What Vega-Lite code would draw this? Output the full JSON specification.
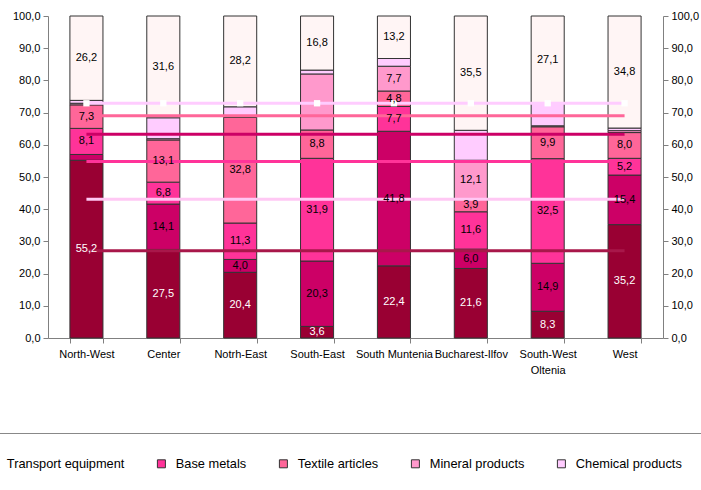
{
  "$schema": "https://vega.github.io/schema/vega-lite/v6.json",
  "autosize": {"type": "none"},
  "width": 615,
  "height": 322,
  "padding": {"left": 48, "top": 16, "right": 38, "bottom": 152},
  "background": "white",
  "config": {
    "view": {"stroke": null},
    "font": "Liberation Sans",
    "axis": {"labelFont": "Liberation Sans", "labelFontSize": 11, "labelColor": "#000", "domainColor": "#808080", "tickColor": "#808080", "grid": false, "title": null}
  },
  "datasets": {
    "bars": [
      {"region": "North-West", "cat": "Machinery and equipment", "value": 55.2, "labeled": true},
      {"region": "North-West", "cat": "Transport equipment", "value": 1.8, "labeled": false},
      {"region": "North-West", "cat": "Base metals", "value": 8.1, "labeled": true},
      {"region": "North-West", "cat": "Textile articles", "value": 7.3, "labeled": true},
      {"region": "North-West", "cat": "Mineral products", "value": 0.5, "labeled": false},
      {"region": "North-West", "cat": "Chemical products", "value": 0.9, "labeled": false},
      {"region": "North-West", "cat": "Others", "value": 26.2, "labeled": true},
      {"region": "Center", "cat": "Machinery and equipment", "value": 27.5, "labeled": true},
      {"region": "Center", "cat": "Transport equipment", "value": 14.1, "labeled": true},
      {"region": "Center", "cat": "Base metals", "value": 6.8, "labeled": true},
      {"region": "Center", "cat": "Textile articles", "value": 13.1, "labeled": true},
      {"region": "Center", "cat": "Mineral products", "value": 0.4, "labeled": false},
      {"region": "Center", "cat": "Chemical products", "value": 6.5, "labeled": false},
      {"region": "Center", "cat": "Others", "value": 31.6, "labeled": true},
      {"region": "Notrh-East", "cat": "Machinery and equipment", "value": 20.4, "labeled": true},
      {"region": "Notrh-East", "cat": "Transport equipment", "value": 4.0, "labeled": true},
      {"region": "Notrh-East", "cat": "Base metals", "value": 11.3, "labeled": true},
      {"region": "Notrh-East", "cat": "Textile articles", "value": 32.8, "labeled": true},
      {"region": "Notrh-East", "cat": "Mineral products", "value": 0.3, "labeled": false},
      {"region": "Notrh-East", "cat": "Chemical products", "value": 3.0, "labeled": false},
      {"region": "Notrh-East", "cat": "Others", "value": 28.2, "labeled": true},
      {"region": "South-East", "cat": "Machinery and equipment", "value": 3.6, "labeled": true},
      {"region": "South-East", "cat": "Transport equipment", "value": 20.3, "labeled": true},
      {"region": "South-East", "cat": "Base metals", "value": 31.9, "labeled": true},
      {"region": "South-East", "cat": "Textile articles", "value": 8.8, "labeled": true},
      {"region": "South-East", "cat": "Mineral products", "value": 17.4, "labeled": false},
      {"region": "South-East", "cat": "Chemical products", "value": 1.2, "labeled": false},
      {"region": "South-East", "cat": "Others", "value": 16.8, "labeled": true},
      {"region": "South Muntenia", "cat": "Machinery and equipment", "value": 22.4, "labeled": true},
      {"region": "South Muntenia", "cat": "Transport equipment", "value": 41.8, "labeled": true},
      {"region": "South Muntenia", "cat": "Base metals", "value": 7.7, "labeled": true},
      {"region": "South Muntenia", "cat": "Textile articles", "value": 4.8, "labeled": true},
      {"region": "South Muntenia", "cat": "Mineral products", "value": 7.7, "labeled": true},
      {"region": "South Muntenia", "cat": "Chemical products", "value": 2.4, "labeled": false},
      {"region": "South Muntenia", "cat": "Others", "value": 13.2, "labeled": true},
      {"region": "Bucharest-Ilfov", "cat": "Machinery and equipment", "value": 21.6, "labeled": true},
      {"region": "Bucharest-Ilfov", "cat": "Transport equipment", "value": 6.0, "labeled": true},
      {"region": "Bucharest-Ilfov", "cat": "Base metals", "value": 11.6, "labeled": true},
      {"region": "Bucharest-Ilfov", "cat": "Textile articles", "value": 3.9, "labeled": true},
      {"region": "Bucharest-Ilfov", "cat": "Mineral products", "value": 12.1, "labeled": true},
      {"region": "Bucharest-Ilfov", "cat": "Chemical products", "value": 9.3, "labeled": false},
      {"region": "Bucharest-Ilfov", "cat": "Others", "value": 35.5, "labeled": true},
      {"region": "South-West Oltenia", "cat": "Machinery and equipment", "value": 8.3, "labeled": true},
      {"region": "South-West Oltenia", "cat": "Transport equipment", "value": 14.9, "labeled": true},
      {"region": "South-West Oltenia", "cat": "Base metals", "value": 32.5, "labeled": true},
      {"region": "South-West Oltenia", "cat": "Textile articles", "value": 9.9, "labeled": true},
      {"region": "South-West Oltenia", "cat": "Mineral products", "value": 0.3, "labeled": false},
      {"region": "South-West Oltenia", "cat": "Chemical products", "value": 7.0, "labeled": false},
      {"region": "South-West Oltenia", "cat": "Others", "value": 27.1, "labeled": true},
      {"region": "West", "cat": "Machinery and equipment", "value": 35.2, "labeled": true},
      {"region": "West", "cat": "Transport equipment", "value": 15.4, "labeled": true},
      {"region": "West", "cat": "Base metals", "value": 5.2, "labeled": true},
      {"region": "West", "cat": "Textile articles", "value": 8.0, "labeled": true},
      {"region": "West", "cat": "Mineral products", "value": 0.6, "labeled": false},
      {"region": "West", "cat": "Chemical products", "value": 0.8, "labeled": false},
      {"region": "West", "cat": "Others", "value": 34.8, "labeled": true}
    ],
    "lines": [
      {"region": "North-West", "series": "Romania 1", "value": 27.1},
      {"region": "Center", "series": "Romania 1", "value": 27.1},
      {"region": "Notrh-East", "series": "Romania 1", "value": 27.1},
      {"region": "South-East", "series": "Romania 1", "value": 27.1},
      {"region": "South Muntenia", "series": "Romania 1", "value": 27.1},
      {"region": "Bucharest-Ilfov", "series": "Romania 1", "value": 27.1},
      {"region": "South-West Oltenia", "series": "Romania 1", "value": 27.1},
      {"region": "West", "series": "Romania 1", "value": 27.1},
      {"region": "North-West", "series": "Romania 2", "value": 43.1},
      {"region": "Center", "series": "Romania 2", "value": 43.1},
      {"region": "Notrh-East", "series": "Romania 2", "value": 43.1},
      {"region": "South-East", "series": "Romania 2", "value": 43.1},
      {"region": "South Muntenia", "series": "Romania 2", "value": 43.1},
      {"region": "Bucharest-Ilfov", "series": "Romania 2", "value": 43.1},
      {"region": "South-West Oltenia", "series": "Romania 2", "value": 43.1},
      {"region": "West", "series": "Romania 2", "value": 43.1},
      {"region": "North-West", "series": "Romania 3", "value": 54.8},
      {"region": "Center", "series": "Romania 3", "value": 54.8},
      {"region": "Notrh-East", "series": "Romania 3", "value": 54.8},
      {"region": "South-East", "series": "Romania 3", "value": 54.8},
      {"region": "South Muntenia", "series": "Romania 3", "value": 54.8},
      {"region": "Bucharest-Ilfov", "series": "Romania 3", "value": 54.8},
      {"region": "South-West Oltenia", "series": "Romania 3", "value": 54.8},
      {"region": "West", "series": "Romania 3", "value": 54.8},
      {"region": "North-West", "series": "Romania 4", "value": 63.3},
      {"region": "Center", "series": "Romania 4", "value": 63.3},
      {"region": "Notrh-East", "series": "Romania 4", "value": 63.3},
      {"region": "South-East", "series": "Romania 4", "value": 63.3},
      {"region": "South Muntenia", "series": "Romania 4", "value": 63.3},
      {"region": "Bucharest-Ilfov", "series": "Romania 4", "value": 63.3},
      {"region": "South-West Oltenia", "series": "Romania 4", "value": 63.3},
      {"region": "West", "series": "Romania 4", "value": 63.3},
      {"region": "North-West", "series": "Romania 5", "value": 69.0},
      {"region": "Center", "series": "Romania 5", "value": 69.0},
      {"region": "Notrh-East", "series": "Romania 5", "value": 69.0},
      {"region": "South-East", "series": "Romania 5", "value": 69.0},
      {"region": "South Muntenia", "series": "Romania 5", "value": 69.0},
      {"region": "Bucharest-Ilfov", "series": "Romania 5", "value": 69.0},
      {"region": "South-West Oltenia", "series": "Romania 5", "value": 69.0},
      {"region": "West", "series": "Romania 5", "value": 69.0},
      {"region": "North-West", "series": "Romania 6", "value": 72.9},
      {"region": "Center", "series": "Romania 6", "value": 72.9},
      {"region": "Notrh-East", "series": "Romania 6", "value": 72.9},
      {"region": "South-East", "series": "Romania 6", "value": 72.9},
      {"region": "South Muntenia", "series": "Romania 6", "value": 72.9},
      {"region": "Bucharest-Ilfov", "series": "Romania 6", "value": 72.9},
      {"region": "South-West Oltenia", "series": "Romania 6", "value": 72.9},
      {"region": "West", "series": "Romania 6", "value": 72.9}
    ]
  },
  "encoding": {
    "x": {
      "field": "region",
      "type": "nominal",
      "sort": null,
      "scale": {"domain": ["North-West", "Center", "Notrh-East", "South-East", "South Muntenia", "Bucharest-Ilfov", "South-West Oltenia", "West"], "paddingInner": 0.57, "paddingOuter": 0.285},
      "axis": {"labelAngle": 0, "tickBand": "extent", "tickSize": 5, "labelPadding": 5, "labelOverlap": false, "labelBound": false, "labelLimit": 0, "labelExpr": "datum.label === 'South-West Oltenia' ? ['South-West', 'Oltenia'] : datum.label", "labelLineHeight": 16}
    }
  },
  "layer": [
    {
      "data": {"name": "bars"},
      "transform": [
        {"calculate": "indexof(['Machinery and equipment', 'Transport equipment', 'Base metals', 'Textile articles', 'Mineral products', 'Chemical products', 'Others'], datum.cat)", "as": "k"},
        {"stack": "value", "groupby": ["region"], "sort": [{"field": "k", "order": "ascending"}], "as": ["y0", "y1"]}
      ],
      "mark": {"type": "bar", "stroke": "#333", "strokeWidth": 1},
      "encoding": {
        "y": {"field": "y0", "type": "quantitative", "scale": {"domain": [0, 100], "nice": false}, "axis": {"orient": "left", "values": [0, 10, 20, 30, 40, 50, 60, 70, 80, 90, 100], "labelExpr": "replace(format(datum.value, '.1f'), '.', ',')", "tickSize": 5, "labelPadding": 3}},
        "y2": {"field": "y1"},
        "color": {
          "field": "cat",
          "type": "nominal",
          "scale": {"domain": ["Machinery and equipment", "Transport equipment", "Base metals", "Textile articles", "Mineral products", "Chemical products", "Others"], "range": ["#990033", "#CC0066", "#FF3399", "#FF6699", "#FF99CC", "#FFCCFF", "#FFF5F5"]},
          "legend": {"orient": "none", "direction": "horizontal", "legendX": -285, "legendY": 417, "title": null, "labelFont": "Liberation Sans", "labelFontSize": 12.8, "labelColor": "#000", "symbolType": "square", "symbolSize": 64, "symbolStrokeColor": "#333", "symbolStrokeWidth": 1, "symbolOpacity": 1, "labelOffset": 8, "columnPadding": 30, "strokeColor": "#888", "padding": 24}
        }
      }
    },
    {
      "data": {"name": "lines"},
      "mark": {"type": "line", "strokeWidth": 3},
      "encoding": {
        "y": {"field": "value", "type": "quantitative", "axis": {"orient": "right", "values": [0, 10, 20, 30, 40, 50, 60, 70, 80, 90, 100], "labelExpr": "replace(format(datum.value, '.1f'), '.', ',')", "tickSize": 5, "labelPadding": 3}},
        "stroke": {
          "field": "series",
          "type": "nominal",
          "scale": {"domain": ["Romania 1", "Romania 2", "Romania 3", "Romania 4", "Romania 5", "Romania 6"], "range": ["#A8174A", "#FFC8F4", "#FF3399", "#CC0066", "#FF6699", "#FFCCFF"]},
          "legend": null
        }
      }
    },
    {
      "data": {"name": "lines"},
      "transform": [{"filter": "datum.series === 'Romania 6'"}],
      "mark": {"type": "point", "shape": "square", "filled": true, "fill": "white", "size": 40, "opacity": 1},
      "encoding": {
        "y": {"field": "value", "type": "quantitative", "axis": null}
      }
    },
    {
      "data": {"name": "bars"},
      "transform": [
        {"calculate": "indexof(['Machinery and equipment', 'Transport equipment', 'Base metals', 'Textile articles', 'Mineral products', 'Chemical products', 'Others'], datum.cat)", "as": "k"},
        {"stack": "value", "groupby": ["region"], "sort": [{"field": "k", "order": "ascending"}], "as": ["y0", "y1"]},
        {"filter": "datum.labeled"},
        {"calculate": "(datum.y0 + datum.y1) / 2", "as": "mid"},
        {"calculate": "replace(format(datum.value, '.1f'), '.', ',')", "as": "label"}
      ],
      "mark": {"type": "text", "fontSize": 11, "font": "Liberation Sans"},
      "encoding": {
        "y": {"field": "mid", "type": "quantitative", "axis": null},
        "text": {"field": "label"},
        "color": {"condition": {"test": "datum.cat === 'Machinery and equipment'", "value": "white"}, "value": "black"}
      }
    }
  ],
  "resolve": {"axis": {"y": "independent"}}
}
